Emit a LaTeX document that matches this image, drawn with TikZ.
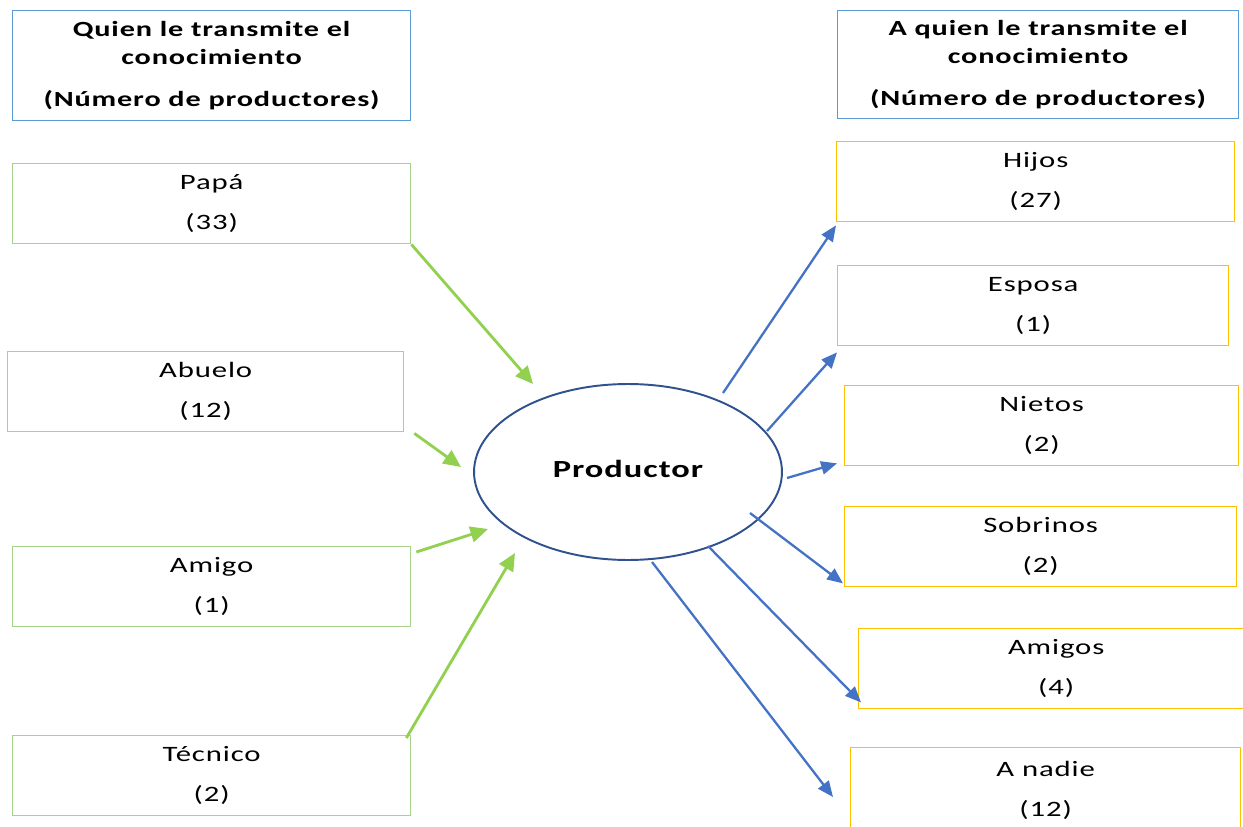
\documentclass[tikz,border=0pt]{standalone}
\usepackage{fontspec}
\setmainfont[FakeStretch=1.4,LetterSpace=4]{Carlito}
\usetikzlibrary{arrows.meta,shapes.geometric}

\definecolor{hdrblue}{RGB}{91,155,213}
\definecolor{srcgreen}{RGB}{169,209,142}
\definecolor{arrgreen}{RGB}{146,208,80}
\definecolor{dstorange}{RGB}{255,192,0}
\definecolor{arrblue}{RGB}{68,114,196}
\definecolor{ringblue}{RGB}{47,82,143}

\tikzset{
  header/.style={draw=hdrblue, line width=0.7pt, anchor=north west,
    minimum width=7.96cm, minimum height=2.2cm, align=center,
    font=\bfseries\fontsize{12.3}{15.4}\selectfont},
  srcbox/.style={draw=srcgreen, line width=0.8pt, anchor=north west,
    minimum height=1.6cm, align=center,
    font=\fontsize{12.5}{22.8}\selectfont},
  dstbox/.style={srcbox, draw=dstorange},
  inarrow/.style={arrgreen, line width=1.6pt,
    -{Triangle[length=10pt,width=9pt]}},
  outarrow/.style={arrblue, line width=1.3pt,
    -{Triangle[length=9pt,width=7.5pt]}},
}

\begin{document}
\begin{tikzpicture}[x=0.02cm, y=-0.02cm]
    \useasboundingbox (0,0) rectangle (1243,827);

    % Headers
    \node[header] (hdrleft) at (12,10)
        {Quien le transmite el\\conocimiento\\[8.5pt](Número de productores)};
    \node[header, minimum width=8.02cm, minimum height=2.16cm] (hdrright) at (837,10)
        {A quien le transmite el\\conocimiento\\[8.5pt](Número de productores)};

    % Who passes the knowledge on
    \node[srcbox, minimum width=7.96cm] (papa) at (12,163) {Papá\\(33)};
    \node[srcbox, minimum width=7.92cm] (abuelo) at (7,351) {Abuelo\\(12)};
    \node[srcbox, minimum width=7.96cm] (amigo) at (12,546) {Amigo\\(1)};
    \node[srcbox, minimum width=7.96cm] (tecnico) at (12,735) {Técnico\\(2)};

    % The producer
    \node[draw=ringblue, line width=1.1pt, ellipse, minimum width=6.16cm,
        minimum height=3.52cm, font=\bfseries\fontsize{14}{16}\selectfont]
        (prod) at (628,472) {\raisebox{3pt}{Productor}};

    % Who receives the knowledge
    \node[dstbox, minimum width=7.96cm] (hijos) at (836,141) {Hijos\\(27)};
    \node[dstbox, minimum width=7.82cm] (esposa) at (837,265) {Esposa\\(1)};
    \node[dstbox, minimum width=7.88cm] (nietos) at (844,385) {Nietos\\(2)};
    \node[dstbox, minimum width=7.84cm] (sobrinos) at (844,506) {Sobrinos\\(2)};
    \node[dstbox, minimum width=7.9cm] (amigos) at (858,628) {Amigos\\(4)};
    \node[dstbox, minimum width=7.8cm, minimum height=1.7cm] (anadie) at (850,747) {A nadie\\(12)};

    % Arrow ends near the ellipse
    \coordinate (inPapa) at (533,384);
    \coordinate (inAbuelo) at (461,467);
    \coordinate (inAmigo) at (488,529);
    \coordinate (inTecnico) at (515,553);
    \coordinate (outHijos) at (723,393);
    \coordinate (outEsposa) at (767,431);
    \coordinate (outNietos) at (787,478);
    \coordinate (outSobrinos) at (750,513);
    \coordinate (outAmigos) at (708,546);
    \coordinate (outNadie) at (652,562);

    \draw[inarrow] (papa.south east) -- (inPapa);
    \draw[inarrow] ([shift={(10,1)}]abuelo.south east) -- (inAbuelo);
    \draw[inarrow] ([shift={(5,6)}]amigo.north east) -- (inAmigo);
    \draw[inarrow] ([shift={(-5,3)}]tecnico.north east) -- (inTecnico);

    \draw[outarrow] (outHijos) -- ([shift={(0,3)}]hijos.south west);
    \draw[outarrow] (outEsposa) -- ([shift={(0,6)}]esposa.south west);
    \draw[outarrow] (outNietos) -- ([shift={(-7,-3)}]nietos.south west);
    \draw[outarrow] (outSobrinos) -- ([shift={(-1,-4)}]sobrinos.south west);
    \draw[outarrow] (outAmigos) -- ([shift={(3,-7)}]amigos.south west);
    \draw[outarrow] (outNadie) -- ([shift={(-17,50)}]anadie.north west);
\end{tikzpicture}
\end{document}
